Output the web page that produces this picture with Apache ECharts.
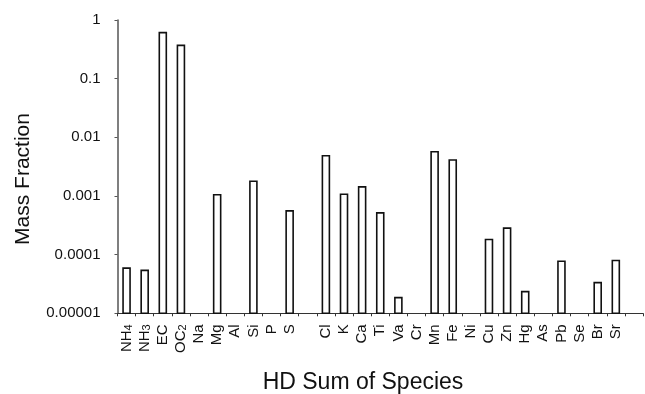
<!DOCTYPE html>
<html><head><meta charset="utf-8">
<script src="https://cdn.jsdelivr.net/npm/echarts@6/dist/echarts.min.js"></script>
<style>html,body{margin:0;padding:0;background:#fff}#c{width:645px;height:394px}</style>
</head><body><div id="c"></div>
<script>
const categories = ['NH4','NH3','EC','OC2','Na','Mg','Al','Si','P','S','','Cl','K','Ca','Ti','Va','Cr','Mn','Fe','Ni','Cu','Zn','Hg','As','Pb','Se','Br','Sr',''];
const massFraction = [5.9e-5,5.4e-5,0.61,0.37,null,0.00105,null,0.00178,null,0.000557,null,0.00486,0.00107,0.00143,0.000516,1.85e-5,null,0.00569,0.00411,null,0.000181,0.000283,2.34e-5,null,7.7e-5,null,3.33e-5,7.95e-5,null];
const yTickLabels = ['0.00001','0.0001','0.001','0.01','0.1','1'];
const subscriptLabels = {NH4:['NH','4'],NH3:['NH','3'],OC2:['OC','2']};
const yMin = 0.00001, yMax = 1;

const barData = [];
massFraction.forEach(function(v,i){ if(v!=null) barData.push([i,v]); });

const chart = echarts.init(document.getElementById('c'));
const font = 'Liberation Sans, Arial, sans-serif';
chart.setOption({
  animation:false,
  title:[
    {text:'HD Sum of Species',left:358,top:366,textAlign:'center',
     textStyle:{fontFamily:font,fontSize:23,fontWeight:'normal',color:'#111'}}
  ],
  graphic:[
    {type:'text',x:23,y:179,rotation:Math.PI/2,
     style:{text:'Mass Fraction',font:'21px Liberation Sans, Arial, sans-serif',fill:'#111',align:'center',verticalAlign:'middle'}}
  ],
  grid:{left:117.5,right:2,top:20,bottom:80.7},
  xAxis:{
    type:'category', data:categories,
    axisLine:{lineStyle:{color:'#333',width:1}},
    axisTick:{show:true,length:3,lineStyle:{color:'#333'}},
    axisLabel:{rotate:90,interval:0,margin:11,color:'#111',fontFamily:font,fontSize:15,
      formatter:function(v){ if(subscriptLabels[v]) return '{a|'+subscriptLabels[v][0]+'}{s|'+subscriptLabels[v][1]+'}'; return v;},
      rich:{a:{fontSize:15,fontFamily:font,color:'#111'},s:{fontSize:11,fontFamily:font,color:'#111',verticalAlign:'bottom'}}}
  },
  yAxis:{
    type:'log', min:yMin, max:yMax, logBase:10,
    splitLine:{show:false},
    axisLine:{show:true,lineStyle:{color:'#555',width:1.5}},
    axisTick:{show:true,length:3,lineStyle:{color:'#555'}},
    axisLabel:{color:'#111',fontFamily:font,fontSize:15,margin:17,
      formatter:function(v){ const e=Math.round(Math.log10(v)); return yTickLabels[e+5]; }}
  },
  series:[{type:'custom',data:barData,encode:{x:0,y:1},
    renderItem:function(params,api){
      const top = api.coord([api.value(0), api.value(1)]);
      const base = api.coord([api.value(0), yMin]);
      const w = 7;
      return {type:'rect',shape:{x:top[0]-w/2,y:top[1],width:w,height:base[1]-top[1]},
        style:{fill:'#fff',stroke:'#111',lineWidth:1.6}};
    }}]
});
</script></body></html>
